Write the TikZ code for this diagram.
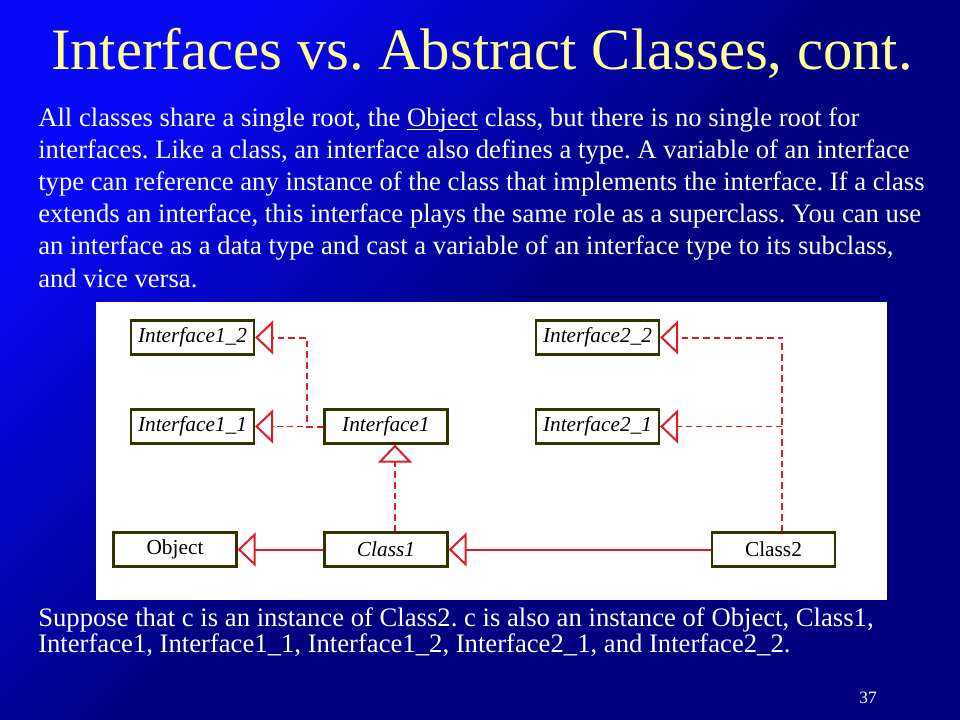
\documentclass[tikz,border=0pt]{standalone}
\usepackage{fontspec}
\setmainfont{Liberation Serif}
\usetikzlibrary{arrows.meta}
\definecolor{bright}{RGB}{8,8,250}
\definecolor{navy}{RGB}{0,0,128}
\definecolor{titlecol}{RGB}{255,255,153}
\definecolor{umlred}{RGB}{220,30,36}
\definecolor{boxcol}{RGB}{51,51,0}
\newcommand\myul[1]{\begingroup\setbox0\hbox{#1}\rlap{\rule[-2pt]{\wd0}{0.8pt}}\box0\endgroup}
\tikzset{
  umlbox/.style={draw=boxcol, line width=1.7pt, fill=white, minimum width=92.25pt,
    minimum height=25.5pt, inner sep=0pt, font=\fontsize{16}{19}\selectfont},
  itbox/.style={umlbox, font=\fontsize{16}{19}\selectfont\itshape},
  tri/.style={-{Triangle[open, length=13.5pt, width=25.5pt, fill=white, line width=1.5pt]}},
  solidarr/.style={tri, color=umlred, line width=1.5pt},
  dasharr/.style={tri, color=umlred, line width=1.5pt, dash pattern=on 5pt off 3pt},
  thindash/.style={tri, color=umlred, line width=1pt, dash pattern=on 4.5pt off 3pt},
  bodytext/.style={anchor=base west, text=white, inner sep=0pt, font=\fontsize{20}{24}\selectfont},
}
\frenchspacing
\begin{document}
\begin{tikzpicture}[x=0.75pt, y=-0.75pt]
\useasboundingbox (0,0) rectangle (960,720);
\shade[top color=bright, bottom color=navy, middle color=navy, shading angle=45] (0,0) rectangle (960,720);
% title
\node[anchor=base, text=titlecol, inner sep=0pt, font=\fontsize{44}{50}\selectfont] (title) at (482,70) {Interfaces vs. Abstract Classes, cont.};
% body
\node[bodytext] (l1) at (38,127) {All classes share a single root, the \myul{Object} class, but there is no single root for};
\node[bodytext] (l2) at (38,159) {interfaces. Like a class, an interface also defines a type. A variable of an interface};
\node[bodytext] (l3) at (38,191) {type can reference any instance of the class that implements the interface. If a class};
\node[bodytext] (l4) at (38,223) {extends an interface, this interface plays the same role as a superclass. You can use};
\node[bodytext] (l5) at (38,255) {an interface as a data type and cast a variable of an interface type to its subclass,};
\node[bodytext] (l6) at (38,287) {and vice versa.};
% diagram panel
\fill[white] (96,302) rectangle (887,600);
\node[itbox] (I12) at (192.5,337.5) {Interface1\_2};
\node[itbox] (I11) at (192.5,426.5) {Interface1\_1};
\node[itbox] (I1) at (386,426.5) {Interface1};
\node[umlbox] (Obj) at (175,549.5) {Object};
\node[itbox] (C1) at (386,549.5) {Class1};
\node[itbox] (I22) at (597.5,337.5) {Interface2\_2};
\node[itbox] (I21) at (597.5,426.5) {Interface2\_1};
\node[umlbox] (C2) at (773.5,549.5) {Class2};
\coordinate (j1) at (306.7,426.5);
\coordinate (j2) at (782.3,426.5);
\draw[solidarr] (C1.west) -- (Obj.east);
\draw[solidarr] (C2.west) -- (C1.east);
\draw[dasharr] ([xshift=6.75pt]C1.north) -- ([xshift=6.75pt]I1.south);
\draw[thindash] (I1.west) -- (I11.east);
\draw[dasharr] (I1.west) -- (j1) |- (I12.east);
\draw[dasharr] ([xshift=6.6pt]C2.north) |- (I22.east);
\draw[thindash] (j2) -- (I21.east);
% bottom text
\node[bodytext] (b1) at (38,626) {Suppose that c is an instance of Class2. c is also an instance of Object, Class1,};
\node[bodytext] (b2) at (38,652) {Interface1, Interface1\_1, Interface1\_2, Interface2\_1, and Interface2\_2.};
\node[anchor=base east, text=white, inner sep=0pt, font=\fontsize{13}{15}\selectfont] (pg) at (877,703) {37};
\end{tikzpicture}
\end{document}
